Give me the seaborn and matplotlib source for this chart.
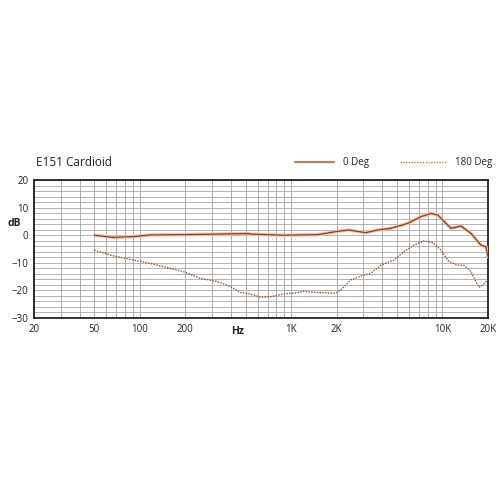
import numpy as np
import pandas as pd
import seaborn as sns
import matplotlib.pyplot as plt
from matplotlib.ticker import FixedLocator, NullFormatter

sns.set_theme(style="white")
plt.rcParams['font.family'] = ['Open Sans', 'DejaVu Sans']

# 0 Deg response (Hz, dB)
freq_0 = [50, 67, 91, 117, 194, 326, 520, 538, 891, 1496, 2032, 2400, 3110, 3740,
          4560, 5900, 7200, 8390, 9330, 11380, 13240, 15420, 17980, 19400, 20000]
db_0 = [0.0, -0.8, -0.5, 0.1, 0.2, 0.4, 0.6, 0.4, 0.0, 0.2, 1.4, 1.9, 0.9, 1.9,
        2.5, 4.3, 6.7, 7.9, 7.3, 2.5, 3.3, 0.7, -3.6, -4.2, -7.8]

# 180 Deg response (Hz, dB)
freq_180 = [50, 67, 91, 117, 194, 251, 326, 397, 463, 538, 628, 731, 891, 1038, 1208,
            1496, 1968, 2125, 2476, 2885, 3360, 3910, 4770, 5560, 6470, 7540, 8650,
            9770, 11040, 12650, 13870, 15420, 17420, 18530, 19970]
db_180 = [-5.4, -7.5, -9.0, -10.2, -13.2, -15.6, -16.8, -18.6, -20.8, -21.3, -22.5,
          -22.3, -21.3, -21.0, -20.3, -20.8, -21.0, -19.9, -16.2, -14.8, -13.8, -10.9,
          -9.0, -6.0, -3.6, -2.1, -2.7, -5.4, -9.6, -10.9, -10.9, -13.2, -18.9, -18.0,
          -16.2]

xtick_vals = [20, 50, 100, 200, 1000, 2000, 10000, 20000]
xtick_labels = ["20", "50", "100", "200", "1K", "2K", "10K", "20K"]
ytick_vals = [20, 10, 0, -10, -20, -30]

df0 = pd.DataFrame({"Hz": freq_0, "dB": db_0})
df180 = pd.DataFrame({"Hz": freq_180, "dB": db_180})

fig = plt.figure(figsize=(4.96, 4.96), dpi=100)
ax = fig.add_axes([34 / 496, 1 - 318 / 496, 454 / 496, 138 / 496])

# grid
minor = [m * 10 ** e for e in range(1, 5) for m in range(1, 10)]
minor = [v for v in minor if 20 <= v <= 20000]
for v in minor:
    ax.axvline(v, color="#9a9a9a", lw=0.55, zorder=0)
for v in range(-30, 21, 2):
    ax.axhline(v, color="#a0a0a0", lw=0.55, zorder=0)

# 0 deg: light halo + darker core
sns.lineplot(data=df0, x="Hz", y="dB", ax=ax, color="#f6c4a2", lw=2.4, zorder=3)
sns.lineplot(data=df0, x="Hz", y="dB", ax=ax, color="#8e3d1f", lw=0.9, zorder=4)
# 180 deg dotted
sns.lineplot(data=df180, x="Hz", y="dB", ax=ax, color="#9c4a26", lw=1.0,
             linestyle=(0, (1, 1)), zorder=4)

ax.set_xscale("log")
ax.set_xlim(20, 20000)
ax.set_ylim(-30, 20)
ax.xaxis.set_major_locator(FixedLocator(xtick_vals))
ax.set_xticklabels(xtick_labels)
ax.xaxis.set_minor_locator(FixedLocator([]))
ax.xaxis.set_minor_formatter(NullFormatter())
ax.set_yticks(ytick_vals)
ax.tick_params(axis="both", length=0, labelsize=7, colors="#222222", pad=4)
for s in ax.spines.values():
    s.set_color("#111111")
    s.set_linewidth(1.2)
ax.set_xlabel("")
ax.set_ylabel("")

fig.text(238 / 496, 1 - 332 / 496, "Hz", ha="center", va="center", fontsize=7.5,
         fontweight="bold", color="#222222")
fig.text(14 / 496, 1 - 224 / 496, "dB", ha="center", va="center", fontsize=7.5,
         fontweight="bold", color="#222222")
fig.text(36 / 496, 1 - 162 / 496, "E151 Cardioid", ha="left", va="center",
         fontsize=8.5, color="#222222")

# legend
fig.add_artist(plt.Line2D([295 / 496, 334 / 496], [1 - 162 / 496] * 2,
                          color="#c0805e", lw=1.6))
fig.text(343 / 496, 1 - 162 / 496, "0 Deg", ha="left", va="center", fontsize=7,
         color="#222222")
fig.add_artist(plt.Line2D([400 / 496, 447 / 496], [1 - 162 / 496] * 2,
                          color="#c0805e", lw=1.0, linestyle=(0, (1, 1))))
fig.text(455 / 496, 1 - 162 / 496, "180 Deg", ha="left", va="center", fontsize=7,
         color="#222222")

fig.savefig("out.png", dpi=100, facecolor="white")
